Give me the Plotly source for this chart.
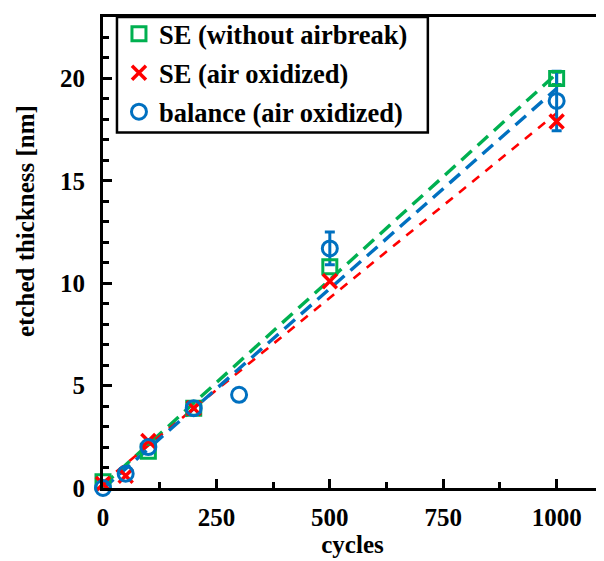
import numpy as np
import plotly.graph_objects as go

# ---- data ----
cycles_se = [0, 100, 200, 500, 1000]
thick_se = [0.3, 1.8, 3.9, 10.8, 20.0]
err_se = [0, 0, 0, 0, 0.3]

cycles_air = [0, 50, 100, 200, 500, 1000]
thick_air = [0.2, 0.6, 2.3, 3.9, 10.1, 17.9]

cycles_bal = [0, 50, 100, 200, 300, 500, 1000]
thick_bal = [0.0, 0.7, 2.0, 3.9, 4.55, 11.7, 18.9]
err_bal = [0, 0, 0, 0, 0, 0.8, 1.45]

x_ticks = [0, 250, 500, 750, 1000]
y_ticks = [0, 5, 10, 15, 20]

GREEN = "#00B050"
RED = "#FF0000"
BLUE = "#0070C0"
FONT = "Times New Roman, Liberation Serif, serif"
FS = 25

def fit_line(x, y):
    k, b = np.polyfit(x, y, 1)
    xs = np.array([0, 1000])
    return xs, k * xs + b

def err_trace(x, y, e, col):
    idx = [i for i, v in enumerate(e) if v > 0]
    return go.Scatter(x=[x[i] for i in idx], y=[y[i] for i in idx], mode="markers",
                      marker=dict(size=1, opacity=0), showlegend=False, hoverinfo="skip",
                      error_y=dict(type="data", array=[e[i] for i in idx], color=col,
                                   thickness=3, width=5),
                      cliponaxis=False)

fig = go.Figure()

# fitted dashed lines
for (x, y, col, dash, w) in [
    (cycles_se, thick_se, GREEN, "14px,8px", 3.4),
    (cycles_air, thick_air, RED, "9px,8px", 2.6),
    (cycles_bal, thick_bal, BLUE, "14px,8px", 3.4),
]:
    xs, ys = fit_line(x, y)
    fig.add_trace(go.Scatter(x=xs, y=ys, mode="lines", showlegend=False,
                             line=dict(color=col, dash=dash, width=w),
                             hoverinfo="skip", cliponaxis=False))

fig.add_trace(err_trace(cycles_se, thick_se, err_se, GREEN))
fig.add_trace(err_trace(cycles_bal, thick_bal, err_bal, BLUE))

fig.add_trace(go.Scatter(
    x=cycles_se, y=thick_se, mode="markers", name="SE (without airbreak)", legendgroup="a",
    marker=dict(symbol="square-open", size=14, color=GREEN, line=dict(width=3, color=GREEN)),
    cliponaxis=False))
fig.add_trace(go.Scatter(
    x=cycles_air, y=thick_air, mode="markers", name="SE (air oxidized)", legendgroup="b",
    marker=dict(symbol="x-thin-open", size=14, color=RED, line=dict(width=3.5, color=RED)),
    cliponaxis=False))
fig.add_trace(go.Scatter(
    x=cycles_bal, y=thick_bal, mode="markers", name="balance (air oxidized)", legendgroup="c",
    marker=dict(symbol="circle-open", size=15, color=BLUE, line=dict(width=3, color=BLUE)),
    cliponaxis=False))

bold_font = dict(family=FONT, size=FS, color="black", weight="bold")

axis_common = dict(
    showline=True, linecolor="black", linewidth=3, mirror=True,
    ticks="inside", tickcolor="black", tickwidth=2.5, ticklen=9,
    showgrid=False, zeroline=False, automargin=False,
    tickfont=bold_font,
)

fig.update_xaxes(
    range=[0, 1100], tickvals=x_ticks, ticktext=[str(v) for v in x_ticks],
    minor=dict(ticks="inside", tickvals=[125, 375, 625, 875], ticklen=6, tickwidth=2.5, tickcolor="black"),
    ticklabelstandoff=5,
    title=dict(text="cycles", font=bold_font, standoff=6),
    **axis_common)
fig.update_yaxes(
    range=[0, 23], tickvals=y_ticks, ticktext=[str(v) for v in y_ticks],
    minor=dict(ticks="inside", dtick=1, ticklen=6, tickwidth=2.5, tickcolor="black"),
    ticklabelstandoff=10,
    **axis_common)

fig.add_annotation(text="etched thickness [nm]", xref="paper", yref="paper",
                   x=-0.1, y=0.567, xanchor="center", yanchor="middle",
                   xshift=-27, textangle=-90, showarrow=False, font=bold_font)

# legend frame
fig.add_shape(type="rect", xref="paper", yref="paper",
              x0=0.028, x1=0.651, y0=0.755, y1=1.0,
              line=dict(color="black", width=2.5), fillcolor="rgba(0,0,0,0)", layer="above")

fig.update_layout(
    width=596, height=553,
    margin=dict(l=95, r=2, t=7, b=73),
    plot_bgcolor="white", paper_bgcolor="white",
    font=dict(family=FONT, color="black"),
    legend=dict(x=0.032, y=1.0148, xanchor="left", yanchor="top",
                borderwidth=0, bgcolor="rgba(0,0,0,0)",
                font=dict(family=FONT, size=26.5, color="black", weight="bold"),
                itemwidth=30, tracegroupgap=1.5),
)

fig.write_html("out.html")
